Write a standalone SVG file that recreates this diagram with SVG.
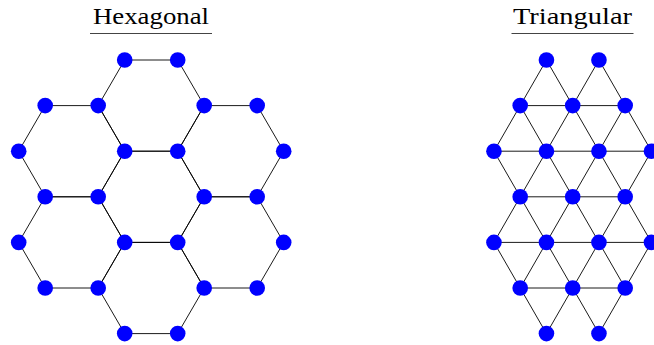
<svg xmlns="http://www.w3.org/2000/svg" width="654" height="345" viewBox="0 0 654 345">
<style>
.title{font-family:"Liberation Serif","Times New Roman",serif;font-size:22.5px;fill:#000;text-anchor:middle}
.ul{stroke:#444;stroke-width:1}
.edge{fill:none;stroke:#000;stroke-width:0.9}
.node{fill:#0000ff}
</style>
<rect width="654" height="345" fill="#fff"/>
<g id="title-hex">
<text class="title" x="151" y="23.5" textLength="116" lengthAdjust="spacingAndGlyphs">Hexagonal</text>
<line class="ul" x1="90" y1="33.5" x2="212" y2="33.5"/>
</g>
<g id="title-tri">
<text class="title" x="572.5" y="23.5" textLength="119" lengthAdjust="spacingAndGlyphs">Triangular</text>
<line class="ul" x1="511.5" y1="33.5" x2="633.5" y2="33.5"/>
</g>
<g id="connectors">
<g id="hex-edges" class="edge">
<polygon points="98.2,105.6 124.7,60 177.7,60 204.2,105.6 177.7,151.2 124.7,151.2"/>
<polygon points="18.7,151.2 45.2,105.6 98.2,105.6 124.7,151.2 98.2,196.8 45.2,196.8"/>
<polygon points="177.7,151.2 204.2,105.6 257.2,105.6 283.7,151.2 257.2,196.8 204.2,196.8"/>
<polygon points="98.2,196.8 124.7,151.2 177.7,151.2 204.2,196.8 177.7,242.4 124.7,242.4"/>
<polygon points="18.7,242.4 45.2,196.8 98.2,196.8 124.7,242.4 98.2,288 45.2,288"/>
<polygon points="177.7,242.4 204.2,196.8 257.2,196.8 283.7,242.4 257.2,288 204.2,288"/>
<polygon points="98.2,288 124.7,242.4 177.7,242.4 204.2,288 177.7,333.6 124.7,333.6"/>
</g>
<g id="tri-edges" class="edge">
<path d="M520.2,105.6H625.2 M493.95,151.2H651.45 M520.2,196.8H625.2 M493.95,242.4H651.45 M520.2,288H625.2"/>
<path d="M546.45,60L651.45,242.4 M520.2,105.6L625.2,288 M598.95,60L651.45,151.2 M493.95,151.2L598.95,333.6 M493.95,242.4L546.45,333.6"/>
<path d="M598.95,60L493.95,242.4 M625.2,105.6L520.2,288 M546.45,60L493.95,151.2 M651.45,151.2L546.45,333.6 M651.45,242.4L598.95,333.6"/>
</g>
</g>
<g id="hex-nodes" class="node">
<circle id="h1" cx="124.7" cy="60" r="7.8"/>
<circle id="h2" cx="177.7" cy="60" r="7.8"/>
<circle id="h3" cx="45.2" cy="105.6" r="7.8"/>
<circle id="h4" cx="98.2" cy="105.6" r="7.8"/>
<circle id="h5" cx="204.2" cy="105.6" r="7.8"/>
<circle id="h6" cx="257.2" cy="105.6" r="7.8"/>
<circle id="h7" cx="18.7" cy="151.2" r="7.8"/>
<circle id="h8" cx="124.7" cy="151.2" r="7.8"/>
<circle id="h9" cx="177.7" cy="151.2" r="7.8"/>
<circle id="h10" cx="283.7" cy="151.2" r="7.8"/>
<circle id="h11" cx="45.2" cy="196.8" r="7.8"/>
<circle id="h12" cx="98.2" cy="196.8" r="7.8"/>
<circle id="h13" cx="204.2" cy="196.8" r="7.8"/>
<circle id="h14" cx="257.2" cy="196.8" r="7.8"/>
<circle id="h15" cx="18.7" cy="242.4" r="7.8"/>
<circle id="h16" cx="124.7" cy="242.4" r="7.8"/>
<circle id="h17" cx="177.7" cy="242.4" r="7.8"/>
<circle id="h18" cx="283.7" cy="242.4" r="7.8"/>
<circle id="h19" cx="45.2" cy="288" r="7.8"/>
<circle id="h20" cx="98.2" cy="288" r="7.8"/>
<circle id="h21" cx="204.2" cy="288" r="7.8"/>
<circle id="h22" cx="257.2" cy="288" r="7.8"/>
<circle id="h23" cx="124.7" cy="333.6" r="7.8"/>
<circle id="h24" cx="177.7" cy="333.6" r="7.8"/>
</g>
<g id="tri-nodes" class="node">
<circle id="t1" cx="546.45" cy="60" r="7.8"/>
<circle id="t2" cx="598.95" cy="60" r="7.8"/>
<circle id="t3" cx="520.2" cy="105.6" r="7.8"/>
<circle id="t4" cx="572.7" cy="105.6" r="7.8"/>
<circle id="t5" cx="625.2" cy="105.6" r="7.8"/>
<circle id="t6" cx="493.95" cy="151.2" r="7.8"/>
<circle id="t7" cx="546.45" cy="151.2" r="7.8"/>
<circle id="t8" cx="598.95" cy="151.2" r="7.8"/>
<circle id="t9" cx="651.45" cy="151.2" r="7.8"/>
<circle id="t10" cx="520.2" cy="196.8" r="7.8"/>
<circle id="t11" cx="572.7" cy="196.8" r="7.8"/>
<circle id="t12" cx="625.2" cy="196.8" r="7.8"/>
<circle id="t13" cx="493.95" cy="242.4" r="7.8"/>
<circle id="t14" cx="546.45" cy="242.4" r="7.8"/>
<circle id="t15" cx="598.95" cy="242.4" r="7.8"/>
<circle id="t16" cx="651.45" cy="242.4" r="7.8"/>
<circle id="t17" cx="520.2" cy="288" r="7.8"/>
<circle id="t18" cx="572.7" cy="288" r="7.8"/>
<circle id="t19" cx="625.2" cy="288" r="7.8"/>
<circle id="t20" cx="546.45" cy="333.6" r="7.8"/>
<circle id="t21" cx="598.95" cy="333.6" r="7.8"/>
</g>
</svg>
